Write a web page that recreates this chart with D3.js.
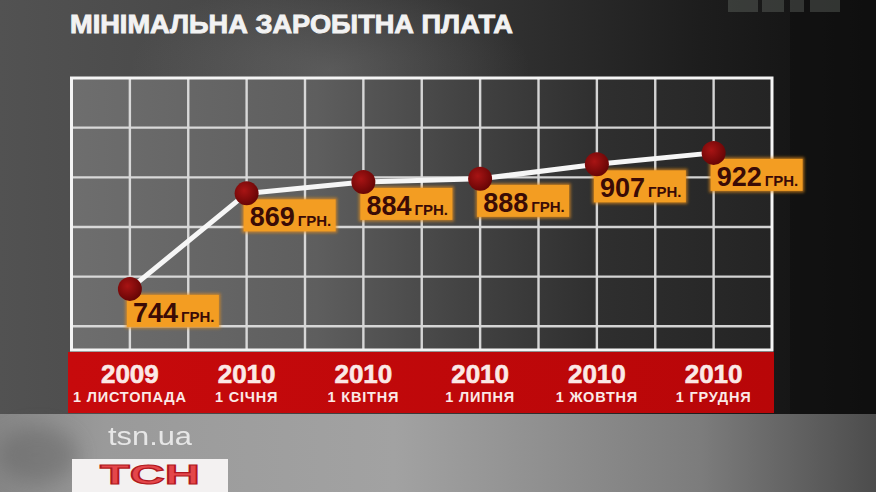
<!DOCTYPE html>
<html><head><meta charset="utf-8">
<script src="https://cdn.jsdelivr.net/npm/d3@7"></script>
<style>html,body{margin:0;padding:0;background:#222;}svg{display:block;}</style>
</head><body>
<script>
const title = "МІНІМАЛЬНА ЗАРОБІТНА ПЛАТА";
const years = ["2009", "2010", "2010", "2010", "2010", "2010"];
const dates = ["1 ЛИСТОПАДА", "1 СІЧНЯ", "1 КВІТНЯ", "1 ЛИПНЯ", "1 ЖОВТНЯ", "1 ГРУДНЯ"];
const values = [744, 869, 884, 888, 907, 922];
const unit = "ГРН.";
const gridValues = [695, 760, 825, 890, 955];

const W = 876, H = 492;
const plot = {left: 71.5, right: 772, top: 78, bottom: 350};
const FONT = "Liberation Sans, Arial, sans-serif";

const svg = d3.select("body").append("svg").attr("width", W).attr("height", H);
const defs = svg.append("defs");

function lin(id, stops, x2 = "100%", y2 = "0%") {
  const g = defs.append("linearGradient").attr("id", id).attr("x1", "0%").attr("y1", "0%").attr("x2", x2).attr("y2", y2);
  stops.forEach(s => g.append("stop").attr("offset", s[0]).attr("stop-color", s[1]));
}
lin("bg", [[0, "#525252"], [0.3, "#464646"], [0.55, "#333"], [0.8, "#1d1d1d"], [1, "#101010"]]);
lin("plotbg", [[0, "#6e6e6e"], [0.35, "#5e5e5e"], [0.55, "#444"], [0.75, "#2f2f2f"], [1, "#242424"]]);
lin("strip", [[0, "#868686"], [0.12, "#9a9a9a"], [0.45, "#a2a2a2"], [0.8, "#7c7c7c"], [1, "#4c4c4c"]]);
lin("band", [[0, "#c70a0c"], [1, "#b80608"]]);
const rg = defs.append("radialGradient").attr("id", "dot").attr("cx", "40%").attr("cy", "38%").attr("r", "60%");
rg.append("stop").attr("offset", 0).attr("stop-color", "#a81414");
rg.append("stop").attr("offset", 1).attr("stop-color", "#6a0606");
const blob = defs.append("radialGradient").attr("id", "blob");
blob.append("stop").attr("offset", 0).attr("stop-color", "#8a8a8a").attr("stop-opacity", 0.35);
blob.append("stop").attr("offset", 1).attr("stop-color", "#8a8a8a").attr("stop-opacity", 0);
const glow = defs.append("filter").attr("id", "glow").attr("x", "-20%").attr("y", "-30%").attr("width", "140%").attr("height", "160%");
glow.append("feGaussianBlur").attr("stdDeviation", 1.6);
const soft = defs.append("filter").attr("id", "soft").attr("x", "-50%").attr("y", "-50%").attr("width", "200%").attr("height", "200%");
soft.append("feGaussianBlur").attr("stdDeviation", 10);

// background
svg.append("rect").attr("width", W).attr("height", H).attr("fill", "url(#bg)");
svg.append("ellipse").attr("cx", 330).attr("cy", 70).attr("rx", 200).attr("ry", 90).attr("fill", "url(#blob)");
svg.append("rect").attr("x", 790).attr("y", 0).attr("width", 86).attr("height", H).attr("fill", "#0f0f0f").attr("opacity", 0.6);

// faint channel logo top-right
const lg = svg.append("g").attr("opacity", 0.28);
[[728, 30], [762, 22], [790, 14], [810, 30]].forEach(d =>
  lg.append("rect").attr("x", d[0]).attr("y", 0).attr("width", d[1]).attr("height", 12).attr("fill", "#8b948b"));

// title
svg.append("text").attr("x", 70).attr("y", 33)
  .attr("font-family", FONT).attr("font-weight", "bold").attr("font-size", 26)
  .attr("fill", "#f2f2f2").attr("stroke", "#f2f2f2").attr("stroke-width", 0.9)
  .attr("textLength", 443).attr("lengthAdjust", "spacingAndGlyphs").text(title);

// scales
const x = d3.scalePoint().domain(d3.range(values.length)).range([plot.left, plot.right]).padding(0.5);
const xGrid = d3.scaleLinear().domain([0, values.length * 2]).range([plot.left, plot.right]);
const y = d3.scaleLinear().domain([664, 1020]).range([plot.bottom, plot.top]);

// plot area
svg.append("rect").attr("x", plot.left).attr("y", plot.top).attr("width", plot.right - plot.left)
  .attr("height", plot.bottom - plot.top).attr("fill", "url(#plotbg)");

const grid = svg.append("g").attr("stroke", "#e2e2e2").attr("stroke-width", 2.4).attr("opacity", 0.92);
grid.selectAll("line.v").data(d3.range(1, values.length * 2)).join("line").attr("class", "v")
  .attr("x1", d => xGrid(d)).attr("x2", d => xGrid(d)).attr("y1", plot.top).attr("y2", plot.bottom);
grid.selectAll("line.h").data(gridValues).join("line").attr("class", "h")
  .attr("x1", plot.left).attr("x2", plot.right).attr("y1", d => y(d)).attr("y2", d => y(d));
svg.append("rect").attr("x", plot.left).attr("y", plot.top).attr("width", plot.right - plot.left)
  .attr("height", plot.bottom - plot.top).attr("fill", "none").attr("stroke", "#f4f4f4").attr("stroke-width", 3);

// red band with categories
svg.append("rect").attr("x", 68).attr("y", 352).attr("width", 706).attr("height", 61).attr("fill", "url(#band)");
const cat = svg.append("g").attr("font-family", FONT).attr("font-weight", "bold")
  .attr("fill", "#fbe9e6").attr("text-anchor", "middle");
cat.selectAll("text.yr").data(years).join("text").attr("class", "yr")
  .attr("x", (d, i) => x(i)).attr("y", 383).attr("font-size", 26)
  .attr("stroke", "#fbe9e6").attr("stroke-width", 0.6).text(d => d);
cat.selectAll("text.dt").data(dates).join("text").attr("class", "dt")
  .attr("x", (d, i) => x(i)).attr("y", 402).attr("font-size", 14.5).attr("letter-spacing", 0.8).text(d => d);

// bottom strip
svg.append("rect").attr("x", 0).attr("y", 414).attr("width", W).attr("height", H - 414).attr("fill", "url(#strip)");
svg.append("ellipse").attr("cx", 38).attr("cy", 455).attr("rx", 40).attr("ry", 28).attr("fill", "#5a5a5a")
  .attr("opacity", 0.4).attr("filter", "url(#soft)");
svg.append("text").attr("x", 108).attr("y", 445).attr("font-family", FONT)
  .attr("font-size", 25).attr("fill", "#f4f4f4").attr("opacity", 0.85)
  .attr("textLength", 84).attr("lengthAdjust", "spacingAndGlyphs").text("tsn.ua");
svg.append("rect").attr("x", 72).attr("y", 459).attr("width", 156).attr("height", 40).attr("fill", "#f3f1f1");
svg.append("text").attr("x", 150).attr("y", 484).attr("text-anchor", "middle")
  .attr("font-family", FONT).attr("font-weight", "bold").attr("font-size", 27)
  .attr("fill", "#e4464a").attr("stroke", "#b01820").attr("stroke-width", 1.1)
  .attr("textLength", 100).attr("lengthAdjust", "spacingAndGlyphs").text("ТСН");

// line + points
const pts = values.map((v, i) => [x(i), y(v)]);
svg.append("path").attr("d", d3.line()(pts)).attr("fill", "none").attr("stroke", "#f6f6f6")
  .attr("stroke-width", 5).attr("stroke-linecap", "round");

// labels
const lab = svg.append("g").selectAll("g").data(values).join("g")
  .attr("transform", (d, i) => `translate(${x(i) - 3},${y(d) + 6})`);
lab.append("rect").attr("x", -1.5).attr("y", -1.5).attr("width", 95).attr("height", 35)
  .attr("fill", "#e8901c").attr("opacity", 0.7).attr("filter", "url(#glow)");
lab.append("rect").attr("width", 92).attr("height", 32).attr("fill", "#f39d22");
const lt = lab.append("text").attr("x", 6).attr("y", 27).attr("font-family", FONT)
  .attr("font-weight", "bold").attr("fill", "#3a0b06");
lt.append("tspan").attr("font-size", 27).text(d => d);
lt.append("tspan").attr("dx", 3).attr("font-size", 15).text(unit);

svg.append("g").selectAll("circle").data(values).join("circle")
  .attr("cx", (d, i) => x(i)).attr("cy", d => y(d)).attr("r", 12).attr("fill", "url(#dot)");
</script>
</body></html>
